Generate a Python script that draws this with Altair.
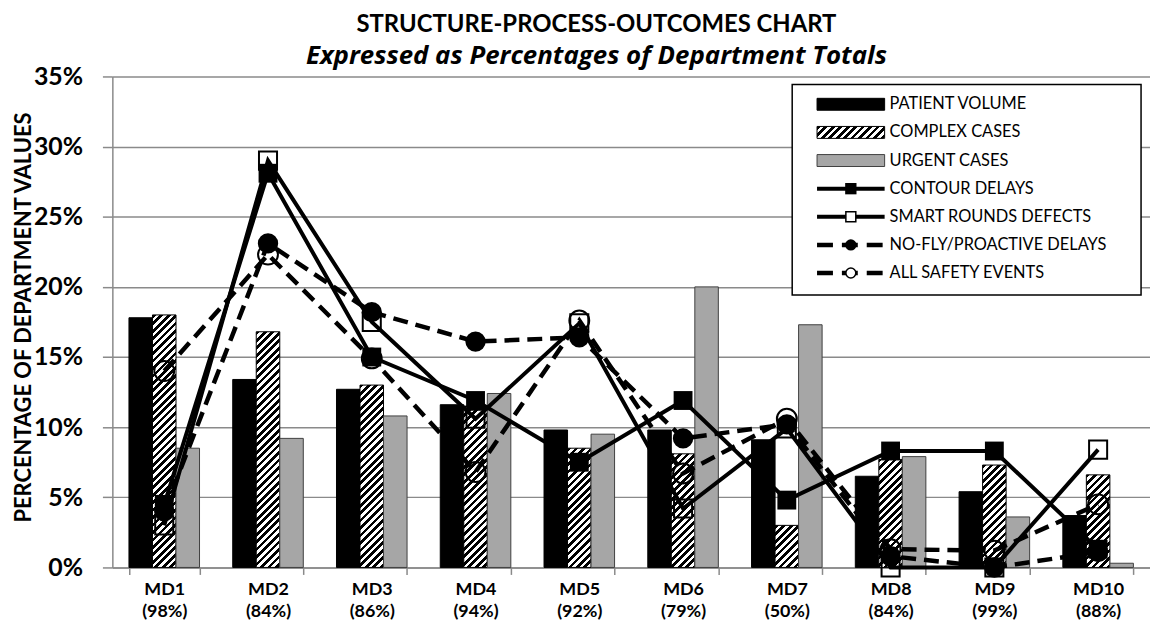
import altair as alt
import pandas as pd

# ---------------- data ----------------
categories = ["MD1", "MD2", "MD3", "MD4", "MD5", "MD6", "MD7", "MD8", "MD9", "MD10"]
dept_pct = ["(98%)", "(84%)", "(86%)", "(94%)", "(92%)", "(79%)", "(50%)", "(84%)", "(99%)", "(88%)"]

patient_volume = [17.8, 13.4, 12.7, 11.6, 9.8, 9.8, 9.1, 6.5, 5.4, 3.7]
complex_cases = [18.0, 16.8, 13.0, 11.5, 8.5, 8.1, 3.0, 7.7, 7.3, 6.6]
urgent_cases = [8.5, 9.2, 10.8, 12.4, 9.5, 20.0, 17.3, 7.9, 3.6, 0.3]

contour_delays = [4.5, 28.1, 15.0, 11.9, 7.5, 11.9, 4.8, 8.3, 8.3, 1.3]
smart_rounds_defects = [3.0, 29.0, 17.5, 10.6, 17.4, 4.2, 9.9, 0.0, 0.0, 8.4]
nofly_delays = [4.0, 23.1, 18.2, 16.1, 16.4, 9.2, 10.2, 0.8, 0.0, 1.1]
safety_events = [14.0, 22.3, 14.9, 6.8, 17.6, 6.7, 10.6, 1.3, 1.2, 4.5]

bar_series = ["PATIENT VOLUME", "COMPLEX CASES", "URGENT CASES"]
line_series = ["CONTOUR DELAYS", "SMART ROUNDS DEFECTS",
               "NO-FLY/PROACTIVE DELAYS", "ALL SAFETY EVENTS"]
y_ticks = [0, 5, 10, 15, 20, 25, 30, 35]

title_text = "STRUCTURE-PROCESS-OUTCOMES CHART"
subtitle_text = "Expressed as Percentages of Department Totals"
y_title = "PERCENTAGE OF DEPARTMENT VALUES"

# ---------------- layout / style ----------------
W, H = 1044, 494
Y_MAX = 35
FONT = "Lato"
GRID = "#8a8a8a"
GREY_BAR = "#a6a6a6"
PAD_INNER, PAD_OUTER = 0.32, 0.16
BAR_W = (W / len(categories)) * (1 - PAD_INNER) / len(bar_series)

cat_labels = [f"{c} {p}" for c, p in zip(categories, dept_pct)]


def hatch(w, h, period=7.5, frac=0.5):
    """Diagonal '/' stripes as a bbox-relative linear gradient."""
    n = (w + h) / period
    k = (w + h) / (w * w + h * h)
    stops = []
    i = 0
    while i < n:
        a = min(i / n, 1.0)
        b = min((i + frac) / n, 1.0)
        c = min((i + 1) / n, 1.0)
        stops += [(a, "black"), (b, "black"), (b, "white"), (c, "white")]
        i += 1
    return alt.LinearGradient(
        gradient="linear",
        stops=[alt.GradientStop(offset=o, color=col) for o, col in stops],
        x1=0, y1=0, x2=k * w, y2=k * h,
    )


X = alt.X(
    "cat:N",
    scale=alt.Scale(domain=cat_labels, paddingInner=PAD_INNER, paddingOuter=PAD_OUTER),
    axis=alt.Axis(
        title=None, labelAngle=0, labelExpr="split(datum.label, ' ')",
        labelFont=FONT, labelFontSize=18, labelFontWeight="bold", labelColor="black",
        labelLineHeight=22, labelBaseline="top", labelPadding=6,
        tickBand="extent", tickSize=7, tickColor=GRID, tickWidth=1.5,
        domainColor=GRID, domainWidth=1.5, grid=False,
    ),
)
Y = alt.Y(
    "value:Q",
    scale=alt.Scale(domain=[0, Y_MAX], nice=False, zero=True),
    axis=alt.Axis(
        values=y_ticks, labelExpr="datum.value + '%'",
        labelFont=FONT, labelFontSize=25, labelFontWeight="bold", labelColor="black",
        labelPadding=20, tickSize=10, tickColor=GRID, tickWidth=1.5,
        domainColor=GRID, domainWidth=1.5,
        grid=True, gridColor=GRID, gridWidth=1.5,
        title=y_title, titleFont=FONT, titleFontSize=22, titleFontWeight="bold",
        titleColor="black", titleX=-89, titleY=242, titleAngle=-90,
        titleAlign="center", titleBaseline="middle",
    ),
)
XO = alt.XOffset("series:N", scale=alt.Scale(domain=bar_series))

# ---------------- bars ----------------
bars_df = pd.DataFrame(
    [
        {"cat": lab, "series": s, "value": v}
        for s, vals in zip(bar_series, [patient_volume, complex_cases, urgent_cases])
        for lab, v in zip(cat_labels, vals)
    ]
)

layers = []
layers.append(
    alt.Chart(bars_df)
    .transform_filter(alt.datum.series == bar_series[0])
    .mark_bar(fill="black", stroke="black", strokeWidth=1)
    .encode(x=X, xOffset=XO, y=Y)
)
for lab, v in zip(cat_labels, complex_cases):
    one = pd.DataFrame({"cat": [lab], "series": [bar_series[1]], "value": [v]})
    h = v / Y_MAX * H
    layers.append(
        alt.Chart(one)
        .mark_bar(fill=hatch(BAR_W, h), stroke="black", strokeWidth=1)
        .encode(x=X, xOffset=XO, y=Y)
    )
layers.append(
    alt.Chart(bars_df)
    .transform_filter(alt.datum.series == bar_series[2])
    .mark_bar(fill=GREY_BAR, stroke="#404040", strokeWidth=1)
    .encode(x=X, xOffset=XO, y=Y)
)

# ---------------- lines ----------------
lines_df = pd.DataFrame(
    [
        {"cat": lab, "series": s, "value": v}
        for s, vals in zip(
            line_series,
            [contour_delays, smart_rounds_defects, nofly_delays, safety_events],
        )
        for lab, v in zip(cat_labels, vals)
    ]
)

line_styles = [
    # name, dashed, shape, filled, size
    (line_series[0], False, "square", True, 360),
    (line_series[1], False, "square", False, 330),
    (line_series[2], True, "circle", True, 420),
    (line_series[3], True, "circle", False, 400),
]
for name, dashed, shape, filled, size in line_styles:
    base = alt.Chart(lines_df).transform_filter(alt.datum.series == name)
    if dashed:
        ln = base.mark_line(color="black", strokeWidth=4.5, strokeDash=[15, 8])
    else:
        ln = base.mark_line(color="black", strokeWidth=4)
    layers.append(ln.encode(x=X, y=Y))
    if filled:
        pt = base.mark_point(shape=shape, filled=True, color="black", size=size, opacity=1)
    else:
        pt = base.mark_point(shape=shape, filled=False, color="black", size=size,
                             strokeWidth=2, opacity=1)
    layers.append(pt.encode(x=X, y=Y))

# ---------------- legend (drawn by hand) ----------------
all_series = bar_series + line_series
LX0, LX1, LY0, LY1 = 684, 1035, 8, 220
SX0, SX1 = 709, 777
SXC = (SX0 + SX1) / 2
TX = 782
ROW0, ROWD = 28, 28.3
one_row = pd.DataFrame({"k": [0]})

layers.append(
    alt.Chart(one_row)
    .mark_rect(fill="white", stroke="black", strokeWidth=1.5)
    .encode(x=alt.value(LX0), x2=alt.value(LX1), y=alt.value(LY0), y2=alt.value(LY1))
)

for j, name in enumerate(all_series):
    ly = ROW0 + j * ROWD
    src = alt.Chart(pd.DataFrame({"name": [name]}))
    if j == 0:
        sym = [src.mark_rect(fill="black", stroke="black")
               .encode(x=alt.value(SX0), x2=alt.value(SX1),
                       y=alt.value(ly - 6), y2=alt.value(ly + 6))]
    elif j == 1:
        sym = [src.mark_rect(fill=hatch(SX1 - SX0, 12), stroke="black", strokeWidth=1)
               .encode(x=alt.value(SX0), x2=alt.value(SX1),
                       y=alt.value(ly - 6), y2=alt.value(ly + 6))]
    elif j == 2:
        sym = [src.mark_rect(fill=GREY_BAR, stroke="#404040", strokeWidth=1)
               .encode(x=alt.value(SX0), x2=alt.value(SX1),
                       y=alt.value(ly - 6), y2=alt.value(ly + 6))]
    else:
        _, dashed, shape, filled, _s = line_styles[j - 3]
        if dashed:
            rule = src.mark_rule(color="black", strokeWidth=4.5, strokeDash=[16, 9])
        else:
            rule = src.mark_rule(color="black", strokeWidth=4)
        rule = rule.encode(x=alt.value(SX0), x2=alt.value(SX1), y=alt.value(ly))
        if filled:
            mk = src.mark_point(shape=shape, filled=True, color="black", size=130, opacity=1)
        else:
            mk = src.mark_point(shape=shape, filled=True, fill="white", stroke="black",
                                strokeWidth=1.5, size=100, opacity=1)
        mk = mk.encode(x=alt.value(SXC), y=alt.value(ly))
        sym = [rule, mk]
    layers += sym
    layers.append(
        src.mark_text(align="left", baseline="middle", font=FONT, fontSize=16.5, color="black")
        .encode(x=alt.value(TX), y=alt.value(ly), text="name:N")
    )

chart = (
    alt.layer(*layers)
    .properties(
        width=W,
        height=H,
        autosize=alt.AutoSizeParams(type="none"),
        padding={"left": 105, "top": 67, "right": 0, "bottom": 51},
        background="white",
        title=alt.TitleParams(
            text=title_text,
            subtitle=subtitle_text,
            font=FONT, fontSize=24, fontWeight="bold", color="black",
            subtitleFont="Open Sans", subtitleFontSize=26, subtitleFontWeight="bold",
            subtitleFontStyle="italic", subtitleColor="black",
            anchor="middle", frame="group", dx=-35, offset=-4, subtitlePadding=6,
        ),
    )
    .configure_view(stroke=None)
)

chart.save("out.html", embed_options={"renderer": "svg", "actions": False})
